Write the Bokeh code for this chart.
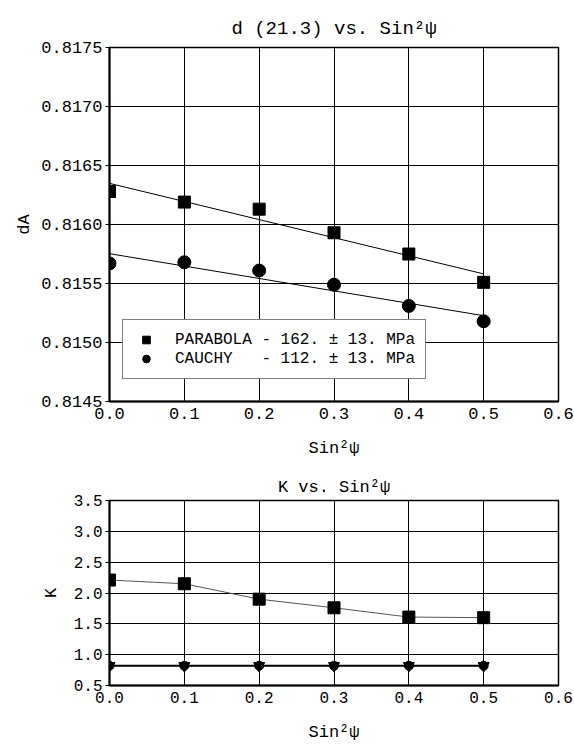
import numpy as np
from bokeh.plotting import figure
from bokeh.models import FixedTicker, Legend, LegendItem, Range1d
from bokeh.layouts import column
from bokeh.embed import file_html
from bokeh.resources import INLINE

# ---------------- data ----------------
sin2psi = [0.0, 0.1, 0.2, 0.3, 0.4, 0.5]
d_parabola = [0.81628, 0.81619, 0.81613, 0.81593, 0.81575, 0.81551]
d_cauchy = [0.81567, 0.81568, 0.81561, 0.81549, 0.81531, 0.81518]
k_parabola = [2.21, 2.15, 1.90, 1.76, 1.61, 1.60]
k_cauchy = [0.82, 0.82, 0.82, 0.82, 0.82, 0.82]

series_names = ["PARABOLA", "CAUCHY"]
stress_mpa = [-162, -112]
stress_err = [13, 13]

x_ticks = [0.0, 0.1, 0.2, 0.3, 0.4, 0.5, 0.6]
x_tick_labels = ["0.0", "0.1", "0.2", "0.3", "0.4", "0.5", "0.6"]
d_ticks = [0.8145, 0.8150, 0.8155, 0.8160, 0.8165, 0.8170, 0.8175]
d_tick_labels = ["0.8145", "0.8150", "0.8155", "0.8160", "0.8165", "0.8170", "0.8175"]
k_ticks = [0.5, 1.0, 1.5, 2.0, 2.5, 3.0, 3.5]
k_tick_labels = ["0.5", "1.0", "1.5", "2.0", "2.5", "3.0", "3.5"]

FONT = "Liberation Mono"
XLABEL = "Sin\u00b2\u03c8"


def style(p, yticks, ylabels, ylabel, tick_size, title_size, title_standoff, ylab_standoff):
    p.title.align = "center"
    p.title.text_font = FONT
    p.title.text_font_size = title_size
    p.title.text_font_style = "normal"
    p.title.text_color = "black"
    p.title.standoff = title_standoff
    p.xaxis.ticker = FixedTicker(ticks=x_ticks)
    p.xaxis.major_label_overrides = dict(zip(x_ticks, x_tick_labels))
    p.yaxis.ticker = FixedTicker(ticks=yticks)
    p.yaxis.major_label_overrides = dict(zip(yticks, ylabels))
    p.xaxis.axis_label = XLABEL
    p.yaxis.axis_label = ylabel
    for ax in (p.xaxis, p.yaxis):
        ax.axis_line_width = 2
        ax.axis_line_color = "black"
        ax.major_tick_line_color = "black"
        ax.minor_tick_line_color = None
        ax.major_tick_in = 0
        ax.major_label_text_font = FONT
        ax.major_label_text_font_size = tick_size
        ax.major_label_text_color = "black"
        ax.axis_label_text_font = FONT
        ax.axis_label_text_font_size = "17px"
        ax.axis_label_text_font_style = "normal"
        ax.axis_label_text_color = "black"
    p.xaxis.major_tick_out = 0
    p.yaxis.major_tick_out = 4
    p.xaxis.major_label_standoff = 6
    p.yaxis.major_label_standoff = 3
    p.xaxis.axis_label_standoff = 17
    p.yaxis.axis_label_standoff = ylab_standoff
    for g in (p.xgrid, p.ygrid):
        g.grid_line_color = "black"
        g.grid_line_width = 1
        g.grid_line_alpha = 1
    p.outline_line_color = "black"
    p.outline_line_width = 1.5
    p.background_fill_color = "white"


# ---------------- top plot ----------------
p1 = figure(width=574, height=468, output_backend="svg", toolbar_location=None,
            x_range=Range1d(0.0, 0.6), y_range=Range1d(0.8145, 0.8175),
            min_border_left=106, min_border_right=15, min_border_top=47,
            min_border_bottom=67, title="d (21.3) vs. " + XLABEL)
style(p1, d_ticks, d_tick_labels, "dA", "17px", "19px", 16, 4)

x_arr = np.array(sin2psi)
fit_p = np.polyval(np.polyfit(x_arr, np.array(d_parabola), 1), x_arr)
fit_c = np.polyval(np.polyfit(x_arr, np.array(d_cauchy), 1), x_arr)
p1.line(sin2psi, list(fit_p), line_color="black", line_width=1)
p1.line(sin2psi, list(fit_c), line_color="black", line_width=1)
r_sq = p1.scatter(sin2psi, d_parabola, marker="square", size=12,
                  fill_color="black", line_color="black")
r_ci = p1.scatter(sin2psi, d_cauchy, marker="circle", size=13,
                  fill_color="black", line_color="black")


def legend_label(name, s, e):
    sign = "-" if s < 0 else "+"
    txt = f"{name:<8} {sign} {abs(s)}. \u00b1 {e}. MPa"
    return txt.replace(" ", "\u00a0")


items = [LegendItem(label=legend_label(series_names[0], stress_mpa[0], stress_err[0]), renderers=[r_sq]),
         LegendItem(label=legend_label(series_names[1], stress_mpa[1], stress_err[1]), renderers=[r_ci])]
legend = Legend(items=items, location=(13, 22), border_line_color="black",
                border_line_width=1, background_fill_color="white",
                background_fill_alpha=1, padding=10, spacing=0,
                glyph_width=26, glyph_height=19, label_standoff=16,
                label_height=19, margin=0, label_text_font=FONT,
                label_text_font_size="16px", label_text_color="black")
p1.add_layout(legend)

# ---------------- bottom plot ----------------
p2 = figure(width=574, height=276, output_backend="svg", toolbar_location=None,
            x_range=Range1d(0.0, 0.6), y_range=Range1d(0.5, 3.5),
            min_border_left=109, min_border_right=16, min_border_top=32,
            min_border_bottom=57, title="K vs. " + XLABEL)
style(p2, k_ticks, k_tick_labels, "K", "16px", "17px", 8, 10)

p2.line(sin2psi, k_parabola, line_color="#555555", line_width=1)
p2.scatter(sin2psi, k_parabola, marker="square", size=12,
           fill_color="black", line_color="black")
p2.line(sin2psi, k_cauchy, line_color="black", line_width=2)
p2.scatter(sin2psi, k_cauchy, marker="circle", size=9,
           fill_color="black", line_color="black")
p2.scatter(sin2psi, k_cauchy, marker="inverted_triangle", size=11,
           fill_color="black", line_color="black")

layout = column(p1, p2)
open("out.html", "w").write(file_html(layout, INLINE))
